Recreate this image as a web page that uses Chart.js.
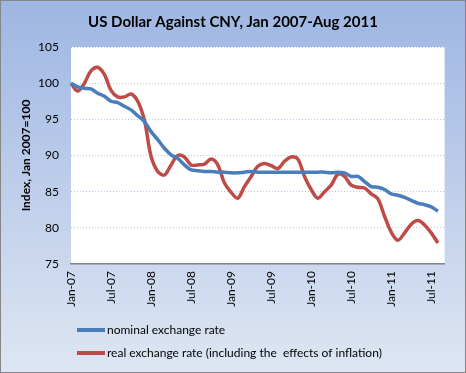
<!DOCTYPE html>
<html>
<head>
<meta charset="utf-8">
<script src="https://cdn.jsdelivr.net/npm/chart.js@4.4.1/dist/chart.umd.min.js"></script>
<style>
  html, body { margin: 0; padding: 0; background: #fff; }
  #wrap { width: 466px; height: 373px; position: relative; }
</style>
</head>
<body>
<div id="wrap"><canvas id="chart"></canvas></div>
<script>
// --- DATA ---
const monthNames = ['Jan', 'Feb', 'Mar', 'Apr', 'May', 'Jun', 'Jul', 'Aug', 'Sep', 'Oct', 'Nov', 'Dec'];
const years = ['07', '08', '09', '10', '11'];

// Jan-07 .. Aug-11, plus one empty slot at the end like the Excel axis
const nominalRate = [
  100.0, 99.5, 99.3, 99.2, 98.6, 98.2, 97.5, 97.3, 96.8, 96.3, 95.5, 94.7,
  93.3, 92.2, 91.0, 90.1, 89.6, 88.7, 88.0, 87.9, 87.8, 87.8, 87.7, 87.7,
  87.6, 87.6, 87.7, 87.8, 87.7, 87.7, 87.7, 87.7, 87.7, 87.7, 87.7, 87.7,
  87.7, 87.7, 87.7, 87.6, 87.7, 87.6, 87.1, 87.1, 86.4, 85.7, 85.6, 85.3,
  84.7, 84.5, 84.2, 83.8, 83.4, 83.2, 82.9, 82.3, null
];
const realRate = [
  100.0, 98.9, 100.0, 101.7, 102.2, 101.2, 99.0, 98.1, 98.1, 98.5, 97.5, 94.9,
  89.9, 87.8, 87.3, 88.7, 90.0, 89.8, 88.7, 88.7, 88.8, 89.5, 88.7, 86.2,
  84.9, 84.1, 85.7, 87.1, 88.5, 88.9, 88.6, 88.2, 89.2, 89.8, 89.5, 87.1,
  85.3, 84.1, 85.0, 85.9, 87.4, 87.1, 85.9, 85.6, 85.5, 84.7, 84.0, 81.6,
  79.4, 78.3, 79.3, 80.5, 81.0, 80.4, 79.3, 77.9, null
];

const chartTitle = 'US Dollar Against CNY, Jan 2007-Aug 2011';
const seriesNames = ['nominal exchange rate', 'real exchange rate (including the  effects of inflation)'];
const seriesColors = ['#4a7ebb', '#be4b48'];

const categories = [];
years.forEach(y => monthNames.forEach(m => categories.push(m + '-' + y)));
categories.length = nominalRate.length;

// --- PLUGINS ---
const backdrop = {
  id: 'backdrop',
  beforeDraw(chart) {
    const ctx = chart.ctx;
    const g = ctx.createLinearGradient(0, 0, 0, chart.height);
    g.addColorStop(0, '#9db6e2');
    g.addColorStop(1, '#dee6f3');
    ctx.save();
    ctx.fillStyle = g;
    ctx.fillRect(0, 0, chart.width, chart.height);
    const a = chart.chartArea;
    ctx.fillStyle = '#ffffff';
    ctx.fillRect(a.left, a.top, a.right - a.left, a.bottom - a.top);
    ctx.strokeStyle = '#868686';
    ctx.lineWidth = 1;
    ctx.strokeRect(0.5, 0.5, chart.width - 1, chart.height - 1);
    // title, centred on the whole picture
    ctx.fillStyle = '#000';
    ctx.font = 'bold 15px Lato';
    ctx.textAlign = 'center';
    ctx.textBaseline = 'middle';
    ctx.fillText(chartTitle, chart.width / 2, 22);
    ctx.restore();
  }
};

const legendRows = {
  id: 'legendRows',
  afterDraw(chart) {
    const ctx = chart.ctx;
    ctx.save();
    ctx.font = '12px Lato';
    ctx.textBaseline = 'middle';
    chart.data.datasets.forEach((ds, i) => {
      const y = 330 + i * 23;
      ctx.strokeStyle = ds.borderColor;
      ctx.lineWidth = 4;
      ctx.beginPath();
      ctx.moveTo(77, y);
      ctx.lineTo(105, y);
      ctx.stroke();
      ctx.fillStyle = '#000';
      ctx.fillText(ds.label, 107, y);
    });
    ctx.restore();
  }
};

// --- CHART ---
new Chart(document.getElementById('chart'), {
  type: 'line',
  data: {
    labels: categories,
    datasets: [
      { label: seriesNames[0], data: nominalRate, borderColor: seriesColors[0], borderWidth: 3.5, pointRadius: 0, tension: 0.35 },
      { label: seriesNames[1], data: realRate, borderColor: seriesColors[1], borderWidth: 3.5, pointRadius: 0, tension: 0.35 }
    ]
  },
  options: {
    responsive: true,
    maintainAspectRatio: false,
    animation: false,
    layout: { padding: { left: 0, right: 17, top: 47, bottom: 64 } },
    plugins: {
      legend: { display: false },
      tooltip: { enabled: false }
    },
    scales: {
      x: {
        offset: false,
        grid: { display: false, drawTicks: false },
        border: { display: true, color: '#868686', width: 1.5 },
        ticks: {
          autoSkip: false,
          maxRotation: 90,
          minRotation: 90,
          padding: 7,
          color: '#000',
          font: { family: 'Lato', size: 12 },
          callback: function(v, i) { return i % 6 === 0 ? this.getLabelForValue(v) : ''; }
        },
        afterFit(scale) { scale.height = 45; }
      },
      y: {
        min: 75,
        max: 105,
        ticks: { stepSize: 5, padding: 12, color: '#000', font: { family: 'Lato', size: 12 } },
        grid: { color: '#b9c6e0', drawTicks: false, lineWidth: 1 },
        border: { display: false, dash: [1, 2] },
        title: {
          display: true,
          text: 'Index, Jan 2007=100',
          color: '#000',
          font: { family: 'Lato', size: 12, weight: 'bold' },
          padding: { top: 19, bottom: 0 }
        },
        afterFit(scale) { scale.width = 71; }
      }
    }
  },
  plugins: [backdrop, legendRows]
});
</script>
</body>
</html>
